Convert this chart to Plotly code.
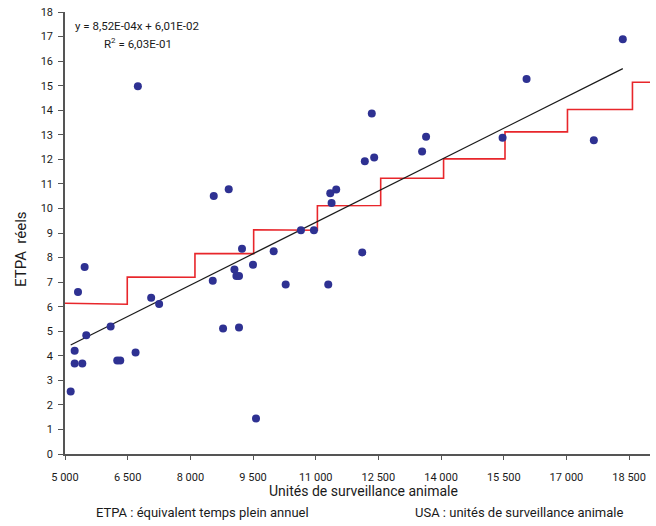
import plotly.graph_objects as go

# Data
usa = [5136, 5231, 5231, 5414, 5311, 5470, 5509, 6092, 6250, 6322, 6689, 6744,
       7062, 7253, 8536, 8560, 8783, 8918, 9055, 9102, 9164, 9164, 9236, 9499,
       9571, 9994, 10281, 10646, 10957, 11300, 11348, 11380, 11491, 12113, 12175,
       12342, 12399, 13546, 13641, 15472, 16046, 17656, 18349]
etpa = [2.55, 4.20, 3.69, 3.69, 6.60, 7.62, 4.84, 5.19, 3.81, 3.81, 4.13, 14.98,
        6.36, 6.11, 7.06, 10.51, 5.11, 10.78, 7.51, 7.25, 7.25, 5.15, 8.36, 7.71,
        1.45, 8.26, 6.90, 9.11, 9.11, 6.90, 10.62, 10.22, 10.77, 8.21, 11.92,
        13.87, 12.07, 12.32, 12.92, 12.88, 15.27, 12.78, 16.89]

# Step line (norm)
step_x = [5000, 6490, 6490, 8110, 8110, 9515, 9515, 11040, 11040, 12555, 12555,
          14060, 14060, 15530, 15530, 17025, 17025, 18580, 18580, 19000]
step_y = [6.14, 6.10, 7.21, 7.20, 8.16, 8.16, 9.13, 9.11, 10.11, 10.12, 11.23,
          11.23, 12.02, 12.02, 13.12, 13.12, 14.03, 14.03, 15.14, 15.14]

# Linear trend (from the equation shown)
slope = 8.52e-04
intercept = 6.01e-02
trend_x = [min(usa), max(usa)]
trend_y = [slope * v + intercept for v in trend_x]

x_ticks = [5000, 6500, 8000, 9500, 11000, 12500, 14000, 15500, 17000, 18500]
x_tick_labels = ["5 000", "6 500", "8 000", "9 500", "11 000", "12 500",
                 "14 000", "15 500", "17 000", "18 500"]
y_ticks = list(range(0, 19))

FONT = "Roboto, Liberation Sans, sans-serif"
AXIS = "#555555"

# plot area in pixels: x 65..650, y 10..454
PL, PT, PW, PH = 65, 10, 585, 444


def px(xp):
    return (xp - PL) / PW


def py(yp):
    return (PT + PH - yp) / PH


def note(text, x, y, size, **kw):
    return dict(text=text, xref="paper", yref="paper", x=px(x), y=py(y),
                xanchor="center", yanchor="middle", showarrow=False,
                font=dict(size=size), **kw)


fig = go.Figure()
fig.add_trace(go.Scatter(x=step_x, y=step_y, mode="lines",
                         line=dict(color="#E8262B", width=1.6),
                         showlegend=False, hoverinfo="skip"))
fig.add_trace(go.Scatter(x=trend_x, y=trend_y, mode="lines",
                         line=dict(color="#1a1a1a", width=1.2),
                         showlegend=False, hoverinfo="skip"))
fig.add_trace(go.Scatter(x=usa, y=etpa, mode="markers",
                         marker=dict(color="#2E3192", size=8),
                         showlegend=False))

fig.update_layout(
    width=656, height=526,
    margin=dict(l=PL, r=656 - (PL + PW), t=PT, b=526 - (PT + PH)),
    paper_bgcolor="white", plot_bgcolor="white",
    font=dict(family=FONT, color="#1a1a1a", size=12),
    xaxis=dict(range=[5000, 19000], tickvals=x_ticks, ticktext=x_tick_labels,
               showgrid=False, zeroline=False, showline=True,
               linecolor=AXIS, linewidth=1.5, ticks="outside", ticklen=4,
               tickcolor=AXIS, tickwidth=1, tickfont=dict(size=11),
               ticklabelstandoff=8),
    yaxis=dict(range=[0, 18], tickvals=y_ticks, showgrid=False,
               zeroline=False, showline=True, linecolor=AXIS, linewidth=1.5,
               ticks="outside", ticklen=5, tickcolor=AXIS, tickwidth=1,
               tickfont=dict(size=11), ticklabelstandoff=3,
               ticklabeloverflow="allow"),
    annotations=[
        note("y = 8,52E-04x + 6,01E-02", 137, 24, 11.5),
        note("R<sup>2</sup> = 6,03E-01", 138, 42, 11.5),
        note("Unités de surveillance animale", 363, 491, 14),
        note("ETPA\u00a0 réels", 21, 248, 15, textangle=-90),
        note("ETPA : équivalent temps plein annuel", 202, 513, 13),
        note("USA : unités de surveillance animale", 519, 513, 13),
    ],
)

fig.write_html("out.html", post_script="document.body.style.margin='0';",
               config={"displayModeBar": False})
